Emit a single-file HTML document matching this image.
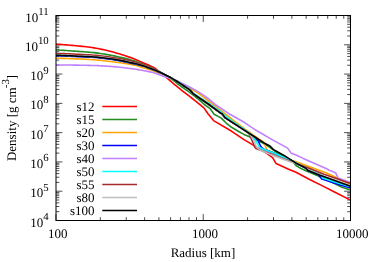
<!DOCTYPE html>
<html><head><meta charset="utf-8"><title>plot</title>
<style>html,body{margin:0;padding:0;background:#fff;}svg{display:block;will-change:transform;}text{font-family:"Liberation Serif",serif;fill:#000;text-rendering:geometricPrecision;}</style></head><body>
<svg width="374" height="262" viewBox="0 0 374 262">
<rect width="374" height="262" fill="#fff"/>
<path d="M56.0,220.50h6.4M350.5,220.50h-6.4M56.0,211.68h3.3M350.5,211.68h-3.3M56.0,206.53h3.3M350.5,206.53h-3.3M56.0,202.87h3.3M350.5,202.87h-3.3M56.0,200.03h3.3M350.5,200.03h-3.3M56.0,197.71h3.3M350.5,197.71h-3.3M56.0,195.75h3.3M350.5,195.75h-3.3M56.0,194.05h3.3M350.5,194.05h-3.3M56.0,192.55h3.3M350.5,192.55h-3.3M56.0,191.21h6.4M350.5,191.21h-6.4M56.0,182.40h3.3M350.5,182.40h-3.3M56.0,177.24h3.3M350.5,177.24h-3.3M56.0,173.58h3.3M350.5,173.58h-3.3M56.0,170.74h3.3M350.5,170.74h-3.3M56.0,168.43h3.3M350.5,168.43h-3.3M56.0,166.46h3.3M350.5,166.46h-3.3M56.0,164.77h3.3M350.5,164.77h-3.3M56.0,163.27h3.3M350.5,163.27h-3.3M56.0,161.93h6.4M350.5,161.93h-6.4M56.0,153.11h3.3M350.5,153.11h-3.3M56.0,147.96h3.3M350.5,147.96h-3.3M56.0,144.30h3.3M350.5,144.30h-3.3M56.0,141.46h3.3M350.5,141.46h-3.3M56.0,139.14h3.3M350.5,139.14h-3.3M56.0,137.18h3.3M350.5,137.18h-3.3M56.0,135.48h3.3M350.5,135.48h-3.3M56.0,133.98h3.3M350.5,133.98h-3.3M56.0,132.64h6.4M350.5,132.64h-6.4M56.0,123.83h3.3M350.5,123.83h-3.3M56.0,118.67h3.3M350.5,118.67h-3.3M56.0,115.01h3.3M350.5,115.01h-3.3M56.0,112.17h3.3M350.5,112.17h-3.3M56.0,109.85h3.3M350.5,109.85h-3.3M56.0,107.89h3.3M350.5,107.89h-3.3M56.0,106.20h3.3M350.5,106.20h-3.3M56.0,104.70h3.3M350.5,104.70h-3.3M56.0,103.36h6.4M350.5,103.36h-6.4M56.0,94.54h3.3M350.5,94.54h-3.3M56.0,89.38h3.3M350.5,89.38h-3.3M56.0,85.73h3.3M350.5,85.73h-3.3M56.0,82.89h3.3M350.5,82.89h-3.3M56.0,80.57h3.3M350.5,80.57h-3.3M56.0,78.61h3.3M350.5,78.61h-3.3M56.0,76.91h3.3M350.5,76.91h-3.3M56.0,75.41h3.3M350.5,75.41h-3.3M56.0,74.07h6.4M350.5,74.07h-6.4M56.0,65.26h3.3M350.5,65.26h-3.3M56.0,60.10h3.3M350.5,60.10h-3.3M56.0,56.44h3.3M350.5,56.44h-3.3M56.0,53.60h3.3M350.5,53.60h-3.3M56.0,51.28h3.3M350.5,51.28h-3.3M56.0,49.32h3.3M350.5,49.32h-3.3M56.0,47.62h3.3M350.5,47.62h-3.3M56.0,46.13h3.3M350.5,46.13h-3.3M56.0,44.79h6.4M350.5,44.79h-6.4M56.0,35.97h3.3M350.5,35.97h-3.3M56.0,30.81h3.3M350.5,30.81h-3.3M56.0,27.15h3.3M350.5,27.15h-3.3M56.0,24.32h3.3M350.5,24.32h-3.3M56.0,22.00h3.3M350.5,22.00h-3.3M56.0,20.04h3.3M350.5,20.04h-3.3M56.0,18.34h3.3M350.5,18.34h-3.3M56.0,16.84h3.3M350.5,16.84h-3.3M56.0,15.50h6.4M350.5,15.50h-6.4M56.00,220.5v-6.4M56.00,15.5v6.4M100.33,220.5v-3.3M100.33,15.5v3.3M126.26,220.5v-3.3M126.26,15.5v3.3M144.65,220.5v-3.3M144.65,15.5v3.3M158.92,220.5v-3.3M158.92,15.5v3.3M170.58,220.5v-3.3M170.58,15.5v3.3M180.44,220.5v-3.3M180.44,15.5v3.3M188.98,220.5v-3.3M188.98,15.5v3.3M196.51,220.5v-3.3M196.51,15.5v3.3M203.25,220.5v-6.4M203.25,15.5v6.4M247.58,220.5v-3.3M247.58,15.5v3.3M273.51,220.5v-3.3M273.51,15.5v3.3M291.90,220.5v-3.3M291.90,15.5v3.3M306.17,220.5v-3.3M306.17,15.5v3.3M317.83,220.5v-3.3M317.83,15.5v3.3M327.69,220.5v-3.3M327.69,15.5v3.3M336.23,220.5v-3.3M336.23,15.5v3.3M343.76,220.5v-3.3M343.76,15.5v3.3M350.50,220.5v-6.4M350.50,15.5v6.4" stroke="#000" stroke-width="0.7" fill="none"/>
<clipPath id="c"><rect x="56.0" y="15.5" width="294.5" height="205.0"/></clipPath><g clip-path="url(#c)" fill="none" stroke-width="1.6" stroke-linejoin="round" stroke-linecap="butt">
<path d="M56.00,44.10L58.00,44.23L60.00,44.37L62.00,44.52L64.00,44.68L66.00,44.84L68.00,45.01L70.00,45.19L72.00,45.37L74.00,45.55L76.00,45.75L78.00,45.94L80.00,46.14L82.00,46.34L84.00,46.56L86.00,46.79L88.00,47.03L90.00,47.28L92.00,47.56L94.00,47.85L96.00,48.18L98.00,48.54L100.00,48.94L102.00,49.36L104.00,49.82L106.00,50.29L108.00,50.79L110.00,51.30L112.00,51.82L114.00,52.35L116.00,52.90L118.00,53.47L120.00,54.06L122.00,54.68L124.00,55.32L126.00,55.99L128.00,56.68L130.00,57.38L132.00,58.11L134.00,58.85L136.00,59.64L138.00,60.48L140.00,61.36L142.00,62.26L144.00,63.15L146.00,64.00L148.00,64.83L150.00,65.69L152.00,66.63L154.00,67.70L156.00,69.02L158.00,70.56L160.00,72.20L162.00,73.80L164.00,75.42L166.00,77.09L168.00,78.80L170.00,80.60L172.00,82.40L174.00,84.08L176.00,85.70L178.00,87.30L180.00,88.90L182.00,90.51L184.00,92.12L186.00,93.69L188.00,95.20L190.00,96.70L192.00,98.25L194.00,99.82L196.00,101.40L198.00,103.01L200.00,104.64L202.00,106.30L203.90,107.90L208.20,114.00L213.60,120.60L231.70,131.30L244.00,139.60L252.00,144.40L266.70,153.40L272.60,157.60L276.10,163.60L288.00,168.90L296.00,172.30L309.60,179.50L322.00,185.60L334.00,191.80L350.50,200.10" stroke="#ff0000"/>
<path d="M56.00,49.95L58.00,50.06L60.00,50.18L62.00,50.30L64.00,50.42L66.00,50.55L68.00,50.68L70.00,50.81L72.00,50.94L74.00,51.08L76.00,51.22L78.00,51.36L80.00,51.49L82.00,51.63L84.00,51.78L86.00,51.93L88.00,52.09L90.00,52.26L92.00,52.45L94.00,52.65L96.00,52.88L98.00,53.13L100.00,53.42L102.00,53.72L104.00,54.05L106.00,54.39L108.00,54.75L110.00,55.13L112.00,55.51L114.00,55.90L116.00,56.30L118.00,56.72L120.00,57.16L122.00,57.62L124.00,58.10L126.00,58.60L128.00,59.13L130.00,59.67L132.00,60.25L134.00,60.85L136.00,61.51L138.00,62.24L140.00,63.02L142.00,63.83L144.00,64.65L146.00,65.46L148.00,66.30L150.00,67.15L152.00,68.05L154.00,69.00L156.00,70.02L158.00,71.09L160.00,72.22L162.00,73.39L164.00,74.58L166.00,75.78L168.00,76.98L170.00,78.18L172.00,79.46L174.00,80.88L176.00,82.49L178.00,84.10L180.00,85.57L182.00,86.99L184.00,88.40L186.00,89.81L188.00,91.20L190.00,92.63L192.00,94.14L194.00,95.69L196.00,97.29L198.00,98.92L200.00,100.60L202.00,102.32L204.00,104.10L205.00,105.00L209.80,108.30L214.10,114.20L221.00,117.90L226.40,123.30L230.70,126.70L238.20,131.30L244.00,134.40L254.40,138.80L263.20,143.20L268.80,146.50L274.20,150.70L293.00,162.00L296.00,165.50L301.00,168.60L306.40,171.10L318.50,175.90L330.00,181.20L342.00,187.20L350.50,189.90" stroke="#228b22"/>
<path d="M56.00,58.20L58.00,58.24L60.00,58.29L62.00,58.35L64.00,58.41L66.00,58.47L68.00,58.54L70.00,58.61L72.00,58.68L74.00,58.76L76.00,58.84L78.00,58.92L80.00,59.01L82.00,59.10L84.00,59.20L86.00,59.30L88.00,59.42L90.00,59.53L92.00,59.66L94.00,59.80L96.00,59.95L98.00,60.13L100.00,60.32L102.00,60.54L104.00,60.76L106.00,61.00L108.00,61.24L110.00,61.49L112.00,61.75L114.00,62.00L116.00,62.25L118.00,62.50L120.00,62.76L122.00,63.02L124.00,63.30L126.00,63.59L128.00,63.90L130.00,64.24L132.00,64.60L134.00,65.00L136.00,65.48L138.00,66.07L140.00,66.71L142.00,67.37L144.00,68.00L146.00,68.58L148.00,69.15L150.00,69.72L152.00,70.33L154.00,71.00L156.00,71.77L158.00,72.64L160.00,73.56L162.00,74.50L164.00,75.40L166.00,76.26L168.00,77.12L170.00,77.99L172.00,78.90L174.00,79.87L176.00,80.89L178.00,81.94L180.00,83.00L182.00,84.08L184.00,85.18L186.00,86.29L188.00,87.40L190.00,88.50L192.00,89.58L194.00,90.66L196.00,91.73L198.00,92.80L224.20,113.20L234.00,120.90L245.00,129.20L255.60,136.60L264.20,142.60L265.20,145.60L266.60,149.60L270.00,151.20L278.00,154.80L288.00,159.20L296.00,161.80L326.00,172.80L337.20,178.00L350.50,184.60" stroke="#ffa500"/>
<path d="M56.00,55.65L58.00,55.74L60.00,55.82L62.00,55.91L64.00,56.00L66.00,56.09L68.00,56.18L70.00,56.27L72.00,56.36L74.00,56.45L76.00,56.55L78.00,56.63L80.00,56.71L82.00,56.79L84.00,56.88L86.00,56.96L88.00,57.06L90.00,57.16L92.00,57.27L94.00,57.40L96.00,57.55L98.00,57.73L100.00,57.93L102.00,58.15L104.00,58.39L106.00,58.65L108.00,58.93L110.00,59.21L112.00,59.50L114.00,59.80L116.00,60.11L118.00,60.46L120.00,60.82L122.00,61.21L124.00,61.61L126.00,62.03L128.00,62.46L130.00,62.90L132.00,63.35L134.00,63.80L136.00,64.25L138.00,64.72L140.00,65.20L142.00,65.73L144.00,66.30L146.00,66.94L148.00,67.65L150.00,68.41L152.00,69.21L154.00,70.03L156.00,70.85L158.00,71.67L160.00,72.52L162.00,73.38L164.00,74.28L166.00,75.21L168.00,76.20L170.00,77.26L172.00,78.40L174.00,79.58L176.00,80.80L178.00,82.05L180.00,83.35L182.00,84.67L184.00,86.00L186.00,87.34L188.00,88.69L190.00,90.06L190.50,90.40L193.00,93.60L208.20,104.00L221.00,113.30L225.30,117.90L245.00,130.70L256.40,138.50L258.40,141.00L260.00,145.20L262.00,148.00L264.40,149.40L270.00,151.60L278.00,154.80L286.00,158.20L292.00,160.80L296.00,163.20L305.60,168.00L308.00,170.40L318.00,174.40L319.30,176.00L320.90,178.00L322.00,179.10L338.00,184.30L350.50,188.00" stroke="#0000ff"/>
<path d="M56.00,64.90L58.00,64.91L60.00,64.93L62.00,64.94L64.00,64.96L66.00,64.98L68.00,65.01L70.00,65.03L72.00,65.06L74.00,65.09L76.00,65.11L78.00,65.14L80.00,65.18L82.00,65.21L84.00,65.25L86.00,65.29L88.00,65.34L90.00,65.39L92.00,65.44L94.00,65.50L96.00,65.57L98.00,65.65L100.00,65.75L102.00,65.86L104.00,65.98L106.00,66.11L108.00,66.25L110.00,66.39L112.00,66.54L114.00,66.70L116.00,66.87L118.00,67.05L120.00,67.25L122.00,67.47L124.00,67.70L126.00,67.94L128.00,68.19L130.00,68.45L132.00,68.72L134.00,69.00L136.00,69.30L138.00,69.62L140.00,69.97L142.00,70.33L144.00,70.70L146.00,71.07L148.00,71.45L150.00,71.85L152.00,72.30L154.00,72.80L156.00,73.44L158.00,74.21L160.00,75.05L162.00,75.87L164.00,76.60L166.00,77.20L168.00,77.74L170.00,78.28L172.00,78.90L174.00,79.62L176.00,80.42L178.00,81.27L180.00,82.16L182.00,83.12L184.00,84.13L186.00,85.18L188.00,86.24L190.00,87.30L192.00,88.33L194.00,89.36L196.00,90.43L198.00,91.60L200.00,92.86L202.00,94.18L204.00,95.56L206.00,97.00L208.00,98.51L210.00,100.08L212.00,101.73L214.00,103.44L215.20,104.50L230.00,114.30L245.00,122.80L256.00,130.30L273.00,140.10L287.60,148.10L291.30,153.20L296.00,155.00L303.20,158.40L326.00,168.40L329.20,170.30L335.60,172.70L338.00,177.90L350.50,182.50" stroke="#c080ff"/>
<path d="M56.00,55.00L58.00,55.09L60.00,55.17L62.00,55.26L64.00,55.35L66.00,55.44L68.00,55.53L70.00,55.62L72.00,55.71L74.00,55.80L76.00,55.90L78.00,55.98L80.00,56.06L82.00,56.14L84.00,56.23L86.00,56.31L88.00,56.41L90.00,56.51L92.00,56.62L94.00,56.75L96.00,56.90L98.00,57.08L100.00,57.28L102.00,57.50L104.00,57.74L106.00,58.00L108.00,58.28L110.00,58.56L112.00,58.85L114.00,59.15L116.00,59.46L118.00,59.80L120.00,60.16L122.00,60.53L124.00,60.93L126.00,61.35L128.00,61.78L130.00,62.22L132.00,62.68L134.00,63.15L136.00,63.64L138.00,64.17L140.00,64.73L142.00,65.32L144.00,65.95L146.00,66.62L148.00,67.32L150.00,68.07L152.00,68.86L154.00,69.67L156.00,70.50L158.00,71.37L160.00,72.27L162.00,73.21L164.00,74.19L166.00,75.18L168.00,76.20L170.00,77.24L172.00,78.33L174.00,79.45L176.00,80.60L178.00,81.80L180.00,83.04L182.00,84.31L184.00,85.60L186.00,86.90L188.00,88.22L190.00,89.56L190.50,89.90L193.00,92.90L208.20,103.00L221.00,112.00L225.30,115.80L234.00,122.40L245.00,129.90L252.50,135.30L254.80,139.60L257.20,143.20L259.60,147.20L262.00,148.80L270.00,151.60L278.00,154.80L286.00,158.20L292.00,160.80L296.00,163.00L305.60,167.40L308.80,169.40L321.00,174.60L322.60,177.90L338.00,183.00L345.00,185.10L350.50,186.50" stroke="#00ffff"/>
<path d="M56.00,53.26L58.00,53.35L60.00,53.43L62.00,53.52L64.00,53.62L66.00,53.71L68.00,53.80L70.00,53.90L72.00,54.00L74.00,54.10L76.00,54.20L78.00,54.30L80.00,54.39L82.00,54.49L84.00,54.59L86.00,54.69L88.00,54.80L90.00,54.92L92.00,55.05L94.00,55.20L96.00,55.37L98.00,55.56L100.00,55.78L102.00,56.02L104.00,56.27L106.00,56.55L108.00,56.83L110.00,57.13L112.00,57.44L114.00,57.75L116.00,58.07L118.00,58.41L120.00,58.77L122.00,59.15L124.00,59.54L126.00,59.96L128.00,60.40L130.00,60.86L132.00,61.34L134.00,61.85L136.00,62.40L138.00,62.99L140.00,63.62L142.00,64.30L144.00,65.01L146.00,65.76L148.00,66.53L150.00,67.33L152.00,68.16L154.00,69.00L156.00,69.89L158.00,70.85L160.00,71.87L162.00,72.92L164.00,74.01L166.00,75.10L168.00,76.20L170.00,77.30L172.00,78.44L174.00,79.60L176.00,80.80L178.00,82.05L180.00,83.35L182.00,84.67L184.00,86.00L186.00,87.34L188.00,88.69L190.00,90.06L190.50,90.40L193.00,93.60L208.20,104.00L221.00,113.30L225.30,117.90L245.00,130.70L249.00,134.00L250.00,136.00L252.00,140.40L254.80,147.20L256.00,148.60L260.00,150.00L270.00,153.60L280.00,157.40L290.00,161.20L296.00,163.40L308.00,167.80L324.00,174.20L350.50,183.40" stroke="#a52a2a"/>
<path d="M56.00,54.85L58.00,54.94L60.00,55.02L62.00,55.11L64.00,55.20L66.00,55.29L68.00,55.38L70.00,55.47L72.00,55.56L74.00,55.65L76.00,55.75L78.00,55.83L80.00,55.91L82.00,55.99L84.00,56.08L86.00,56.16L88.00,56.26L90.00,56.36L92.00,56.47L94.00,56.60L96.00,56.75L98.00,56.93L100.00,57.13L102.00,57.35L104.00,57.59L106.00,57.85L108.00,58.13L110.00,58.41L112.00,58.70L114.00,59.00L116.00,59.31L118.00,59.65L120.00,60.00L122.00,60.38L124.00,60.78L126.00,61.19L128.00,61.62L130.00,62.07L132.00,62.53L134.00,63.00L136.00,63.50L138.00,64.04L140.00,64.61L142.00,65.22L144.00,65.85L146.00,66.52L148.00,67.23L150.00,67.97L152.00,68.75L154.00,69.56L156.00,70.40L158.00,71.27L160.00,72.19L162.00,73.15L164.00,74.13L166.00,75.15L168.00,76.20L170.00,77.28L172.00,78.42L174.00,79.59L176.00,80.80L178.00,82.05L180.00,83.35L182.00,84.67L184.00,86.00L186.00,87.34L188.00,88.69L190.00,90.06L190.50,90.40L193.00,93.60L208.20,104.00L221.00,113.30L225.30,117.90L245.00,130.70L250.50,135.00L252.00,137.60L254.40,142.00L256.40,146.80L260.00,150.00L270.00,154.20L280.00,158.00L290.00,161.80L296.00,163.60L305.60,167.80L308.00,169.80L320.00,174.70L350.50,185.70" stroke="#bebebe"/>
<path d="M56.00,55.20L58.00,55.29L60.00,55.37L62.00,55.46L64.00,55.55L66.00,55.64L68.00,55.73L70.00,55.82L72.00,55.91L74.00,56.00L76.00,56.10L78.00,56.18L80.00,56.26L82.00,56.34L84.00,56.43L86.00,56.51L88.00,56.61L90.00,56.71L92.00,56.82L94.00,56.95L96.00,57.10L98.00,57.28L100.00,57.48L102.00,57.70L104.00,57.94L106.00,58.20L108.00,58.48L110.00,58.76L112.00,59.05L114.00,59.35L116.00,59.66L118.00,60.00L120.00,60.36L122.00,60.74L124.00,61.14L126.00,61.56L128.00,61.99L130.00,62.43L132.00,62.89L134.00,63.35L136.00,63.83L138.00,64.34L140.00,64.87L142.00,65.44L144.00,66.05L146.00,66.71L148.00,67.42L150.00,68.17L152.00,68.96L154.00,69.77L156.00,70.60L158.00,71.45L160.00,72.33L162.00,73.25L164.00,74.20L166.00,75.18L168.00,76.20L170.00,77.27L172.00,78.41L174.00,79.59L176.00,80.80L178.00,82.05L180.00,83.35L182.00,84.67L184.00,86.00L186.00,87.34L188.00,88.69L190.00,90.06L190.50,90.40L193.00,93.60L208.20,104.00L221.00,113.30L222.10,113.80L225.30,117.90L245.00,130.70L256.40,138.00L264.40,143.20L270.00,146.00L273.20,149.40L284.00,155.40L296.00,163.20L305.60,168.00L308.00,170.40L320.00,175.20L350.50,186.20" stroke="#000000"/>
</g>
<rect x="56.0" y="15.5" width="294.5" height="205.0" fill="none" stroke="#000" stroke-width="1"/>
<text x="94.5" y="110.7" font-size="13" text-anchor="end">s12</text>
<path d="M102.3,106.5H137" stroke="#ff0000" stroke-width="1.5" fill="none"/>
<text x="94.5" y="123.7" font-size="13" text-anchor="end">s15</text>
<path d="M102.3,119.5H137" stroke="#228b22" stroke-width="1.5" fill="none"/>
<text x="94.5" y="136.7" font-size="13" text-anchor="end">s20</text>
<path d="M102.3,132.5H137" stroke="#ffa500" stroke-width="1.5" fill="none"/>
<text x="94.5" y="149.7" font-size="13" text-anchor="end">s30</text>
<path d="M102.3,145.5H137" stroke="#0000ff" stroke-width="1.5" fill="none"/>
<text x="94.5" y="162.7" font-size="13" text-anchor="end">s40</text>
<path d="M102.3,158.5H137" stroke="#c080ff" stroke-width="1.5" fill="none"/>
<text x="94.5" y="175.7" font-size="13" text-anchor="end">s50</text>
<path d="M102.3,171.5H137" stroke="#00ffff" stroke-width="1.5" fill="none"/>
<text x="94.5" y="188.7" font-size="13" text-anchor="end">s55</text>
<path d="M102.3,184.5H137" stroke="#a52a2a" stroke-width="1.5" fill="none"/>
<text x="94.5" y="201.7" font-size="13" text-anchor="end">s80</text>
<path d="M102.3,197.5H137" stroke="#bebebe" stroke-width="1.5" fill="none"/>
<text x="94.5" y="214.7" font-size="13" text-anchor="end">s100</text>
<path d="M102.3,210.5H137" stroke="#000000" stroke-width="1.5" fill="none"/>
<text x="48.7" y="226.5" font-size="13" text-anchor="end">10<tspan dy="-6.5" font-size="10.8">4</tspan></text>
<text x="48.7" y="197.2" font-size="13" text-anchor="end">10<tspan dy="-6.5" font-size="10.8">5</tspan></text>
<text x="48.7" y="167.9" font-size="13" text-anchor="end">10<tspan dy="-6.5" font-size="10.8">6</tspan></text>
<text x="48.7" y="138.6" font-size="13" text-anchor="end">10<tspan dy="-6.5" font-size="10.8">7</tspan></text>
<text x="48.7" y="109.4" font-size="13" text-anchor="end">10<tspan dy="-6.5" font-size="10.8">8</tspan></text>
<text x="48.7" y="80.1" font-size="13" text-anchor="end">10<tspan dy="-6.5" font-size="10.8">9</tspan></text>
<text x="48.7" y="50.8" font-size="13" text-anchor="end">10<tspan dy="-6.5" font-size="10.8">10</tspan></text>
<text x="48.7" y="21.5" font-size="13" text-anchor="end">10<tspan dy="-6.5" font-size="10.8">11</tspan></text>
<text x="57.8" y="238.1" font-size="13" text-anchor="middle">100</text>
<text x="205.1" y="238.1" font-size="13" text-anchor="middle">1000</text>
<text x="352.3" y="238.1" font-size="13" text-anchor="middle">10000</text>
<text x="203" y="256.5" font-size="13" text-anchor="middle">Radius [km]</text>
<text transform="translate(15.9,118) rotate(-90)" font-size="13" text-anchor="middle">Density [g cm<tspan dx="-0.8" dy="-6.9" font-size="10.8">-3</tspan><tspan dx="-0.1" dy="6.9">]</tspan></text>
</svg></body></html>
